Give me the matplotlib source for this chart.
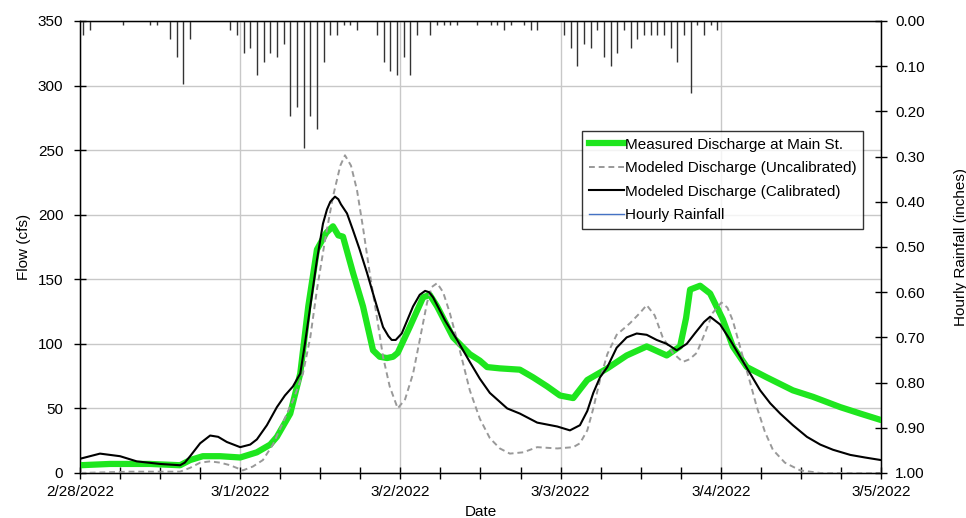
import matplotlib
matplotlib.use("Agg")
import matplotlib.pyplot as plt
from matplotlib.lines import Line2D
from matplotlib.ticker import MultipleLocator
import numpy as np

plt.rcParams["font.family"] = ["Liberation Sans", "DejaVu Sans"]

# time axis: hours after 2/28/2022 00:00
DATE_LABELS = ["2/28/2022", "3/1/2022", "3/2/2022", "3/3/2022", "3/4/2022", "3/5/2022"]

measured_t = [0, 4.5, 10.5, 15.0, 16.5, 18.4, 21.0, 24.0, 26.5, 28.5, 29.5, 31.5, 33.0,
              34.2, 35.5, 36.9, 37.9, 38.7, 39.4, 40.9, 42.4, 43.9, 44.9, 46.0, 46.9,
              47.6, 49.4, 51.4, 52.4, 53.5, 55.9, 58.4, 59.9, 61.0, 62.9, 65.9, 67.9,
              70.0, 71.9, 73.9, 76.0, 79.0, 81.9, 84.9, 87.9, 89.9, 90.8, 91.4, 92.9,
              94.4, 96.3, 97.8, 99.9, 102.9, 106.8, 109.8, 113.9, 116.9, 120]
measured_q = [6, 7, 7, 6, 10, 13, 13, 12, 16, 22, 28, 46, 77,
              129, 173, 186, 191, 184, 183, 155, 129, 95, 90, 89, 90,
              93, 113, 136, 138, 129, 105, 92, 87, 82, 81, 80, 74,
              67, 60, 58, 72, 81, 91, 98, 91, 98, 120, 142, 145,
              139, 119, 98, 82, 74, 64, 59, 51, 46, 41]

calib_t = [0, 3.0, 6.0, 8.5, 12.0, 15.0, 15.7, 16.5, 18.0, 19.5, 20.7, 22.0, 24.0, 25.5,
           26.5, 28.0, 29.5, 30.7, 31.9, 33.0, 33.7, 34.5, 35.5, 36.4, 37.0, 37.5, 38.2,
           38.7, 39.1, 40.0, 40.9, 41.9, 43.0, 43.9, 45.4, 46.2, 46.7, 47.3, 48.2, 49.9,
           50.9, 51.7, 52.3, 52.9, 54.7, 56.5, 58.4, 59.9, 61.4, 64.0, 65.9, 68.5, 71.5,
           73.4, 74.9, 76.0, 76.9, 77.9, 79.0, 80.4, 81.9, 83.4, 84.9, 86.4, 87.9, 89.4,
           90.9, 92.1, 93.5, 94.4, 95.9, 97.4, 98.9, 100.4, 101.9, 103.4, 104.9, 106.8,
           108.9, 110.9, 112.8, 115.4, 117.6, 120]
calib_q = [11, 15, 13, 9, 7, 6, 8, 13, 23, 29, 28, 24, 20, 22,
           26, 37, 51, 60, 67, 77, 100, 129, 165, 193, 204, 210, 214,
           212, 208, 201, 188, 173, 155, 139, 113, 106, 103, 103, 108, 129,
           138, 141, 140, 136, 118, 103, 86, 73, 62, 50, 46, 39, 36,
           33, 37, 48, 62, 74, 82, 97, 105, 108, 107, 103, 100, 95,
           100, 108, 117, 121, 115, 103, 90, 77, 64, 54, 46, 37,
           28, 22, 18, 14, 12, 10]

uncal_t = [0, 7.5, 15.0, 16.5, 18.0, 19.5, 21.0, 22.5, 24.4, 25.9, 27.4, 28.9, 30.4,
           31.9, 33.4, 34.5, 35.5, 36.7, 37.9, 39.0, 39.7, 40.6, 41.5, 42.4, 43.4, 44.5,
           45.4, 46.4, 47.6, 48.7, 49.9, 50.9, 52.0, 52.7, 53.5, 54.4, 55.4, 56.9, 58.4,
           59.9, 61.4, 62.9, 64.4, 66.4, 68.5, 71.5, 73.9, 74.9, 76.0, 76.9, 77.9, 79.0,
           80.4, 82.4, 83.9, 84.9, 86.1, 87.3, 88.8, 90.3, 91.3, 92.4, 93.6, 94.8, 96.1,
           97.0, 97.8, 99.3, 100.4, 101.4, 102.6, 103.8, 105.6, 107.9, 110.9, 120]
uncal_q = [0, 1, 1, 4, 8, 9, 8, 6, 2, 5, 10, 22, 39,
           56, 77, 105, 142, 180, 214, 238, 246, 238, 219, 190, 155, 120,
           90, 67, 50, 57, 77, 103, 132, 144, 147, 140, 124, 95, 64,
           42, 27, 19, 15, 16, 20, 19, 20, 23, 33, 50, 72, 92,
           107, 116, 124, 130, 122, 105, 93, 86, 88, 93, 108, 124, 132,
           128, 118, 90, 70, 51, 32, 18, 8, 2, 0, 0]

# hourly rainfall, plotted at the middle of each hour
rain_t = [0.5, 1.5, 6.5, 10.5, 11.5, 13.5, 14.5, 15.5, 16.5, 22.5, 23.5, 24.5, 25.5,
          26.5, 27.5, 28.5, 29.5, 30.5, 31.5, 32.5, 33.5, 34.5, 35.5, 36.5, 37.5, 38.5,
          39.5, 40.5, 41.5, 44.5, 45.5, 46.5, 47.5, 48.5, 49.5, 50.5, 52.5, 53.5, 54.5,
          55.5, 56.5, 59.5, 61.5, 62.5, 63.5, 64.5, 66.5, 67.5, 68.5, 72.5, 73.5, 74.5,
          75.5, 76.5, 77.5, 78.5, 79.5, 80.5, 81.5, 82.5, 83.5, 84.5, 85.5, 86.5, 87.5,
          88.5, 89.5, 90.5, 91.5, 92.5, 93.5, 94.5, 95.5]
rain_in = [0.03, 0.02, 0.01, 0.01, 0.01, 0.04, 0.08, 0.14, 0.04, 0.02, 0.03, 0.07, 0.06,
           0.12, 0.09, 0.07, 0.08, 0.05, 0.21, 0.19, 0.28, 0.21, 0.24, 0.09, 0.03, 0.03,
           0.01, 0.01, 0.02, 0.03, 0.09, 0.11, 0.12, 0.08, 0.12, 0.03, 0.03, 0.01, 0.01,
           0.01, 0.01, 0.01, 0.01, 0.01, 0.02, 0.01, 0.01, 0.02, 0.02, 0.03, 0.06, 0.10,
           0.05, 0.06, 0.02, 0.08, 0.10, 0.07, 0.02, 0.06, 0.04, 0.03, 0.03, 0.03, 0.03,
           0.06, 0.09, 0.03, 0.16, 0.01, 0.03, 0.01, 0.02]

GREEN = "#1ee61e"
GRID = "#c8c8c8"
FS = 11

fig = plt.figure(figsize=(9.66, 5.18), dpi=100)
ax = fig.add_axes([0.0828, 0.0869, 0.8292, 0.8726])

ax.plot(measured_t, measured_q, color=GREEN, lw=4.5, solid_capstyle="round",
        solid_joinstyle="round", zorder=3)
ax.plot(uncal_t, uncal_q, color="#999999", lw=1.4, ls=(0, (3, 2)), zorder=4)
ax.plot(calib_t, calib_q, color="black", lw=1.5, zorder=5)

ax.set_xlim(0, 120)
ax.set_ylim(0, 350)
ax.set_xticks(np.arange(0, 121, 24))
ax.set_xticklabels(DATE_LABELS)
ax.xaxis.set_minor_locator(MultipleLocator(6))
ax.yaxis.set_major_locator(MultipleLocator(50))
ax.grid(True, which="major", color=GRID, lw=1)
ax.set_axisbelow(True)
ax.tick_params(axis="both", which="both", direction="inout", length=8, width=1,
               labelsize=FS, colors="black")
ax.tick_params(axis="y", pad=8)
ax.tick_params(axis="x", pad=5)
ax.set_xlabel("Date", fontsize=FS, labelpad=4)
ax.set_ylabel("Flow (cfs)", fontsize=FS, labelpad=5)
for sp in ax.spines.values():
    sp.set_color("black")
    sp.set_linewidth(1)

ax2 = ax.twinx()
ax2.vlines(rain_t, 0, rain_in, color="#333333", lw=1)
ax2.set_ylim(1.0, 0.0)
ax2.yaxis.set_major_locator(MultipleLocator(0.1))
ax2.yaxis.set_major_formatter(lambda v, p: f"{v:.2f}")
ax2.tick_params(axis="y", direction="inout", length=8, width=1, labelsize=FS, pad=6)
ax2.set_ylabel("Hourly Rainfall (inches)", fontsize=FS, labelpad=21)

handles = [
    Line2D([], [], color=GREEN, lw=4.5),
    Line2D([], [], color="#999999", lw=1.4, ls=(0, (3, 2))),
    Line2D([], [], color="black", lw=1.5),
    Line2D([], [], color="#4472c4", lw=1),
]
labels = ["Measured Discharge at Main St.", "Modeled Discharge (Uncalibrated)",
          "Modeled Discharge (Calibrated)", "Hourly Rainfall"]
leg = ax2.legend(handles, labels, loc="upper left", bbox_to_anchor=(0.627, 0.757),
                 fontsize=FS, frameon=True, fancybox=False, handlelength=2.3,
                 handletextpad=0.05, borderpad=0.45, labelspacing=0.62, borderaxespad=0)
leg.get_frame().set_edgecolor("black")
leg.get_frame().set_linewidth(1)

fig.savefig("out.png", dpi=100)
